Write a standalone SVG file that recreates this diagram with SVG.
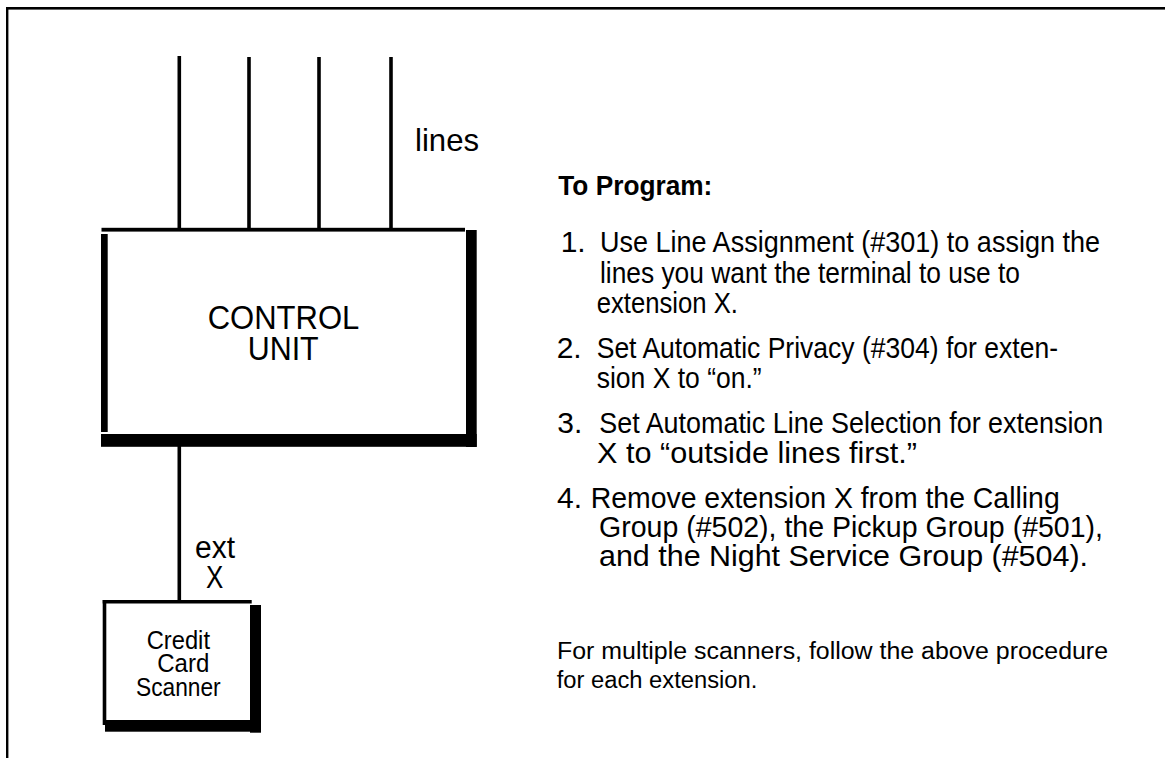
<svg xmlns="http://www.w3.org/2000/svg" width="1165" height="758" viewBox="0 0 1165 758">
<style>
.t{font-family:"Liberation Sans",Arial,sans-serif;fill:#000}
.b{font-weight:bold}
.w{stroke:#000;stroke-width:3.6;fill:none}
.f{fill:#000}
</style>
<rect width="1165" height="758" fill="#fff"/>
<g id="frame">
<rect class="f" x="6" y="7" width="1159" height="2.6"/>
<rect class="f" x="6" y="7" width="2.4" height="751"/>
</g>
<g id="connectors">
<line class="w" x1="179.3" y1="56" x2="179.3" y2="229"/>
<line class="w" x1="249" y1="57" x2="249" y2="229"/>
<line class="w" x1="319" y1="57" x2="319" y2="229"/>
<line class="w" x1="391" y1="57" x2="391" y2="229"/>
<line class="w" x1="179.3" y1="446" x2="179.3" y2="601"/>
</g>
<g id="control-unit">
<rect class="f" x="101.5" y="227.8" width="363.5" height="3.8"/>
<rect class="f" x="101" y="234" width="6.7" height="198"/>
<rect class="f" x="466" y="230" width="10.7" height="217"/>
<rect class="f" x="101" y="434" width="375.7" height="12.8"/>
<text class="t" x="207.7" y="329" font-size="33" textLength="151.6" lengthAdjust="spacingAndGlyphs">CONTROL</text>
<text class="t" x="247.7" y="360" font-size="33" textLength="71" lengthAdjust="spacingAndGlyphs">UNIT</text>
</g>
<g id="scanner">
<rect class="f" x="102.7" y="600" width="149" height="3.5"/>
<rect class="f" x="102.7" y="600" width="3.6" height="125"/>
<rect class="f" x="250" y="605" width="11" height="127.7"/>
<rect class="f" x="105" y="720" width="156" height="11.7"/>
<text class="t" x="146.7" y="649.3" font-size="25" textLength="63.3" lengthAdjust="spacingAndGlyphs">Credit</text>
<text class="t" x="157.3" y="671.7" font-size="25" textLength="52" lengthAdjust="spacingAndGlyphs">Card</text>
<text class="t" x="136" y="696" font-size="25" textLength="84.7" lengthAdjust="spacingAndGlyphs">Scanner</text>
</g>
<g id="labels">
<text class="t" x="415" y="150.7" font-size="32" textLength="64" lengthAdjust="spacingAndGlyphs">lines</text>
<text class="t" x="195" y="558" font-size="31" textLength="40" lengthAdjust="spacingAndGlyphs">ext</text>
<text class="t" x="206" y="588" font-size="31" textLength="17.3" lengthAdjust="spacingAndGlyphs">X</text>
</g>
<g id="instructions">
<text class="t b" x="558.3" y="195" font-size="27.5" textLength="154" lengthAdjust="spacingAndGlyphs">To Program:</text>
<text class="t" x="560.7" y="252" font-size="30">1.</text>
<text class="t" x="600" y="252" font-size="30" textLength="500" lengthAdjust="spacingAndGlyphs">Use Line Assignment (#301) to assign the</text>
<text class="t" x="600" y="282.5" font-size="30" textLength="420" lengthAdjust="spacingAndGlyphs">lines you want the terminal to use to</text>
<text class="t" x="596.7" y="313.3" font-size="30" textLength="141.3" lengthAdjust="spacingAndGlyphs">extension X.</text>
<text class="t" x="556.7" y="357.5" font-size="30">2.</text>
<text class="t" x="596.7" y="357.5" font-size="30" textLength="461.3" lengthAdjust="spacingAndGlyphs">Set Automatic Privacy (#304) for exten-</text>
<text class="t" x="596.7" y="388" font-size="30" textLength="165" lengthAdjust="spacingAndGlyphs">sion X to “on.”</text>
<text class="t" x="557.3" y="433.3" font-size="30">3.</text>
<text class="t" x="599.3" y="433.3" font-size="30" textLength="504" lengthAdjust="spacingAndGlyphs">Set Automatic Line Selection for extension</text>
<text class="t" x="597" y="462.5" font-size="30" textLength="320" lengthAdjust="spacingAndGlyphs">X to “outside lines first.”</text>
<text class="t" x="557" y="507.5" font-size="30">4.</text>
<text class="t" x="590.7" y="507.5" font-size="30" textLength="469" lengthAdjust="spacingAndGlyphs">Remove extension X from the Calling</text>
<text class="t" x="599" y="536.5" font-size="30" textLength="504" lengthAdjust="spacingAndGlyphs">Group (#502), the Pickup Group (#501),</text>
<text class="t" x="599" y="565.5" font-size="30" textLength="489" lengthAdjust="spacingAndGlyphs">and the Night Service Group (#504).</text>
<text class="t" x="557" y="659" font-size="23" textLength="551" lengthAdjust="spacingAndGlyphs">For multiple scanners, follow the above procedure</text>
<text class="t" x="556.7" y="688" font-size="23" textLength="200.6" lengthAdjust="spacingAndGlyphs">for each extension.</text>
</g>
</svg>
